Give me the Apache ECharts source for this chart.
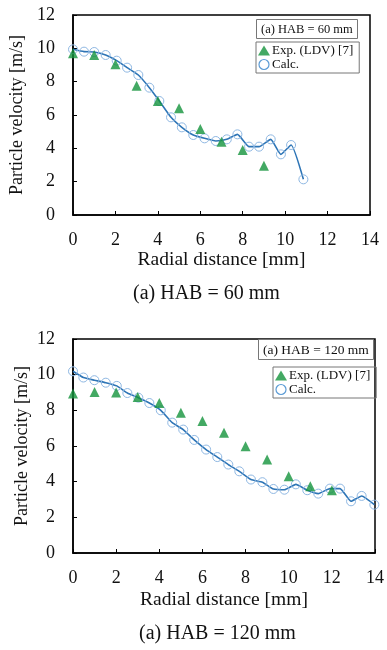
<!DOCTYPE html>
<html><head><meta charset="utf-8">
<script src="https://cdn.jsdelivr.net/npm/echarts@6/dist/echarts.min.js"></script>
<style>html,body{margin:0;padding:0;background:#fff}#c{width:387px;height:650px}</style>
</head><body><div id="c"></div>
<script>
// HAB = 60 mm
const calcX60 = [0, 0.52, 1.0, 1.54, 2.06, 2.55, 3.08, 3.6, 4.07, 4.62, 5.13, 5.67, 6.2, 6.73, 7.25, 7.75, 8.3, 8.77, 9.32, 9.8, 10.28, 10.86];
const calcY60 = [9.94, 9.8, 9.78, 9.6, 9.26, 8.84, 8.4, 7.64, 6.84, 5.86, 5.26, 4.8, 4.6, 4.44, 4.54, 4.84, 4.1, 4.1, 4.54, 3.64, 4.2, 2.14];
const expX60 = [0, 1, 2, 3, 4, 5, 6, 7, 8, 9];
const expY60 = [9.7, 9.6, 9.04, 7.76, 6.84, 6.4, 5.16, 4.4, 3.9, 2.96];
// HAB = 120 mm
const calcX120 = [0, 0.48, 0.99, 1.52, 2.03, 2.52, 3.03, 3.54, 4.07, 4.6, 5.11, 5.62, 6.17, 6.69, 7.2, 7.71, 8.25, 8.78, 9.29, 9.8, 10.33, 10.86, 11.37, 11.91, 12.38, 12.89, 13.38, 13.97];
const calcY120 = [10.19, 9.84, 9.69, 9.55, 9.37, 8.97, 8.71, 8.41, 8.0, 7.31, 6.92, 6.34, 5.8, 5.38, 4.96, 4.58, 4.12, 3.97, 3.59, 3.55, 3.85, 3.52, 3.33, 3.61, 3.61, 2.9, 3.2, 2.71];
const expX120 = [0, 1, 2, 3, 4, 5, 6, 7, 8, 9, 10, 11, 12];
const expY120 = [8.94, 9.03, 9.0, 8.75, 8.41, 7.87, 7.4, 6.75, 5.98, 5.24, 4.3, 3.74, 3.52];
const xTicks = [0, 2, 4, 6, 8, 10, 12, 14];
const yTicks = [0, 2, 4, 6, 8, 10, 12];
const expName = 'Exp. (LDV) [7]';
const calcName = 'Calc.';
const panelTitles = ['(a) HAB = 60 mm', '(a) HAB = 120 mm'];
const xName = 'Radial distance [mm]';
const yName = 'Particle velocity [m/s]';

const FONT = 'Liberation Serif';
const GREEN = '#14943C';
const CIRCLE = '#8FB8E3';
const pair = (xs, ys) => xs.map((x, i) => [x, ys[i]]);

function xAxis(gi, margin, gap) {
  return {
    gridIndex: gi, type: 'value', min: xTicks[0], max: xTicks[xTicks.length - 1], interval: 2,
    name: xName, nameLocation: 'middle', nameGap: gap,
    nameTextStyle: { fontFamily: FONT, fontSize: 19.5, color: '#111' },
    axisLine: { lineStyle: { color: '#000', width: 1.5 } },
    axisTick: { inside: true, length: 4, lineStyle: { color: '#000' } },
    axisLabel: { margin: margin, fontFamily: FONT, fontSize: 18, color: '#111' },
    splitLine: { show: false }
  };
}
function yAxis(gi, gap) {
  return {
    gridIndex: gi, type: 'value', min: yTicks[0], max: yTicks[yTicks.length - 1], interval: 2,
    name: yName, nameLocation: 'middle', nameGap: gap, nameRotate: 90, nameMoveOverlap: false,
    nameTextStyle: { fontFamily: FONT, fontSize: 18, color: '#111' },
    axisLine: { lineStyle: { color: '#000', width: 1.5 } },
    axisTick: { inside: true, length: 4, lineStyle: { color: '#000' } },
    axisLabel: { margin: 18, fontFamily: FONT, fontSize: 18, color: '#111' },
    splitLine: { show: false }
  };
}
function expSeries(gi, xs, ys) {
  return {
    name: expName, type: 'scatter', xAxisIndex: gi, yAxisIndex: gi, z: 5,
    symbol: 'triangle', symbolSize: 10, itemStyle: { color: GREEN },
    data: pair(xs, ys)
  };
}
function calcSeries(gi, xs, ys) {
  return {
    name: calcName, type: 'line', xAxisIndex: gi, yAxisIndex: gi, z: 3,
    symbol: 'circle', symbolSize: 9, smooth: 0.15,
    itemStyle: { color: 'rgba(255,255,255,0)', borderColor: CIRCLE, borderWidth: 1 },
    lineStyle: { color: '#2E75B6', width: 1.6 },
    data: pair(xs, ys)
  };
}
function legend(left, top) {
  return {
    left: left, top: top, orient: 'vertical', itemGap: 1, itemWidth: 12, itemHeight: 10,
    borderColor: '#777', borderWidth: 1, padding: [2, 6, 2, 2], borderRadius: 0,
    textStyle: { fontFamily: FONT, fontSize: 13, color: '#111', padding: [0, 0, 0, -3] },
    data: [{ name: expName, icon: 'triangle', itemStyle: { color: GREEN, borderWidth: 0 } },
           { name: calcName, icon: 'circle', itemStyle: { color: '#fff', borderColor: '#5B9BD5', borderWidth: 1.2 } }]
  };
}
function boxTitle(text, left, top, size) {
  return {
    text: text, left: left, top: top, borderColor: '#777', borderWidth: 1, padding: [4, 5, 3, 5],
    textStyle: { fontFamily: FONT, fontSize: size, fontWeight: 'normal', color: '#111' }
  };
}
function caption(text, left, top) {
  return {
    text: text, left: left, top: top, padding: 0,
    textStyle: { fontFamily: FONT, fontSize: 20, fontWeight: 'normal', color: '#111' }
  };
}

const chart = echarts.init(document.getElementById('c'), null, { renderer: 'canvas' });
chart.setOption({
  animation: false,
  backgroundColor: '#fff',
  title: [
    boxTitle(panelTitles[0], 256, 19, 12.5),
    boxTitle(panelTitles[1], 258, 339, 13.5),
    caption(panelTitles[0], 133, 284),
    caption(panelTitles[1], 139, 624)
  ],
  legend: [legend(256, 42), legend(273, 367)],
  grid: [
    { left: 73, top: 15, width: 297, height: 200, show: true, borderColor: '#000', borderWidth: 1.5, containLabel: false },
    { left: 73, top: 339, width: 302, height: 214, show: true, borderColor: '#000', borderWidth: 1.5, containLabel: false }
  ],
  xAxis: [xAxis(0, 16, 33), xAxis(1, 16, 37)],
  yAxis: [yAxis(0, 47), yAxis(1, 42)],
  series: [
    calcSeries(0, calcX60, calcY60),
    expSeries(0, expX60, expY60),
    calcSeries(1, calcX120, calcY120),
    expSeries(1, expX120, expY120)
  ]
});
</script></body></html>
